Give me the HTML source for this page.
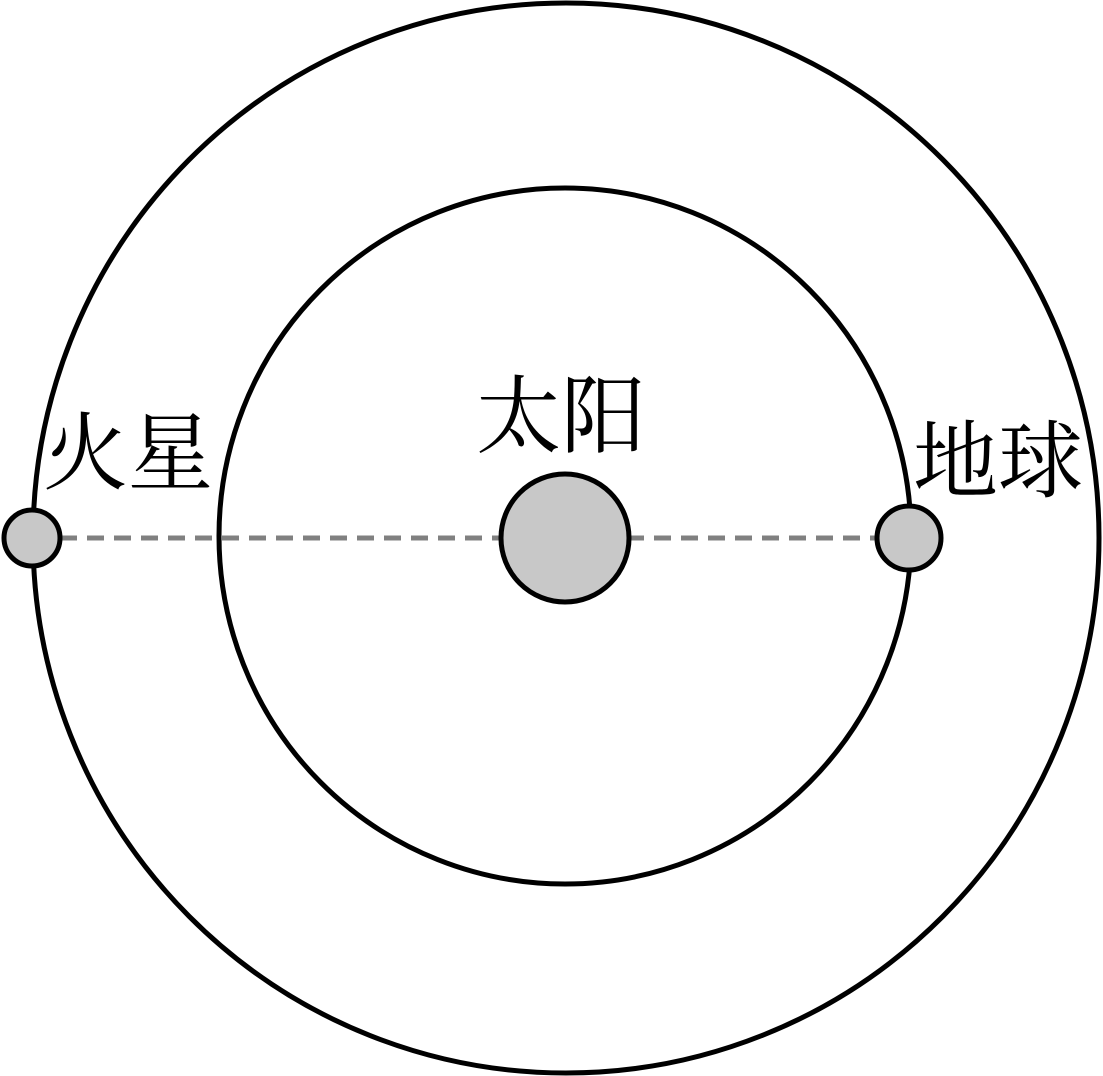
<!DOCTYPE html>
<html><head><meta charset="utf-8"><style>
html,body{margin:0;padding:0;background:#fff;}
svg{display:block}
text{font-family:"Liberation Serif","Noto Serif CJK SC",serif;font-size:85px;fill:#000}
</style></head><body>
<svg width="1103" height="1076" viewBox="0 0 1103 1076" xmlns="http://www.w3.org/2000/svg">
<ellipse cx="566" cy="538" rx="533" ry="535" fill="none" stroke="#000" stroke-width="5"/>
<ellipse cx="565" cy="536" rx="346" ry="348" fill="none" stroke="#000" stroke-width="5"/>
<line x1="60" y1="538" x2="877" y2="538" stroke="#808080" stroke-width="5" stroke-dasharray="17,10"/>
<circle cx="565" cy="538" r="64" fill="#c8c8c8" stroke="#000" stroke-width="5"/>
<circle cx="32" cy="538" r="28" fill="#c8c8c8" stroke="#000" stroke-width="5"/>
<circle cx="909" cy="538" r="32" fill="#c8c8c8" stroke="#000" stroke-width="5"/>
<text x="43" y="483">火星</text>
<text x="476" y="446">太阳</text>
<text x="913" y="491">地球</text>
</svg>
</body></html>
